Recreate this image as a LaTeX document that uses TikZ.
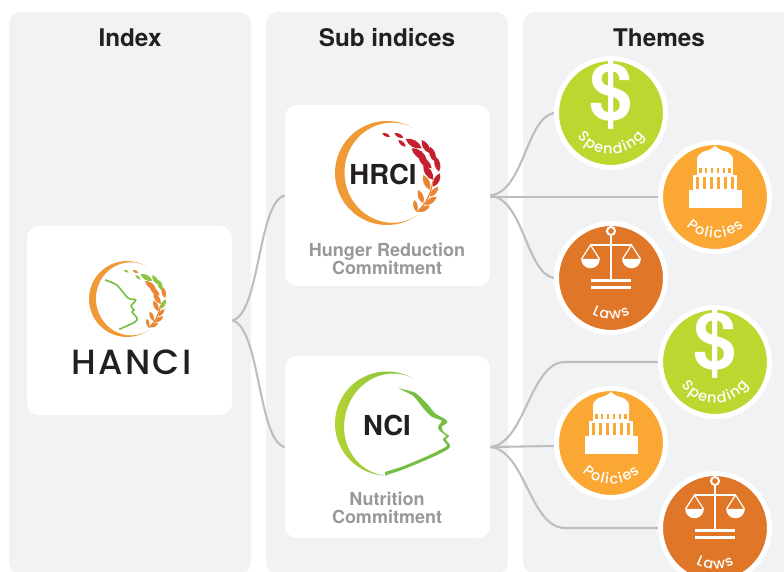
\documentclass[tikz,border=0pt]{standalone}
\usepackage{fontspec}
\setmainfont{TeX Gyre Heros}
\newfontfamily\coinfont{Poppins Medium}
\newfontfamily\wordfont[LetterSpace=7]{Poppins Medium}
\usetikzlibrary{decorations.text}
\pgfdeclarelayer{panellayer}
\pgfdeclarelayer{edgelayer}
\pgfdeclarelayer{nodelayer}
\pgfsetlayers{panellayer,edgelayer,nodelayer,main}
\definecolor{panelgray}{HTML}{F1F2F4}
\definecolor{linkgray}{HTML}{BCBEC0}
\definecolor{labelgray}{HTML}{96989B}
\definecolor{inkblack}{HTML}{231F20}
\definecolor{coinlime}{HTML}{BDD730}
\definecolor{coinamber}{HTML}{FBA733}
\definecolor{coinrust}{HTML}{E07628}
\definecolor{ringorange}{HTML}{F09A37}
\definecolor{wheatorange}{HTML}{E88633}
\definecolor{wheatred}{HTML}{C4202F}
\definecolor{leafgreen}{HTML}{8CC63F}
\definecolor{ringlime}{HTML}{B5D334}
\definecolor{facegreen}{HTML}{76BF43}
\tikzstyle{panel}=[rectangle, fill=panelgray, rounded corners=12, inner sep=0, minimum width=242]
\tikzstyle{card}=[rectangle, fill=white, rounded corners=12, inner sep=0, minimum width=205]
\tikzstyle{coin}=[circle, draw=white, line width=5, inner sep=0, minimum size=109]
\tikzstyle{link}=[-, draw=linkgray, line width=2.1]
\tikzstyle{heading}=[font=\fontsize{24.3}{26}\selectfont\bfseries, text=inkblack]
\tikzstyle{sublabel}=[font=\fontsize{18}{18}\selectfont\bfseries, text=labelgray, align=center]
\tikzstyle{logotext}=[font=\fontsize{27.5}{30}\selectfont\bfseries, text=inkblack]
\tikzstyle{dollar}=[font=\fontsize{78}{78}\selectfont\bfseries, text=white, inner sep=0]
% crescent of the logos, drawn for a ring of radius 52
\newcommand{\logoring}[3]{
    \path [#1] plot [domain=60:#2, samples=70] ({52*cos(\x)}, {52*sin(\x)})
        -- plot [domain=#2:60, samples=70] ({(52-9.5*pow(sin((\x-60)*#3),1.6))*cos(\x)}, {(52-9.5*pow(sin((\x-60)*#3),1.6))*sin(\x)}) -- cycle;
}
\newcommand{\logowheat}[3]{
    \colorlet{wheatw}{#1}
    \colorlet{wheatx}{#2}
    \colorlet{wheaty}{#3}
    \foreach \ax/\ay/\bx/\by/\lc in {
        -4.7/39.7/3/36.3/w, 7.3/39.7/16.3/35.3/x, 11.3/33/18.7/26.3/w,
        34.7/24.7/18.7/34/w, 43/19.7/34.7/33/w,
        39.7/13/24.7/24.7/x, 48/11.3/43/26.3/w,
        44.7/4.7/31.3/16.3/x, 52/1.3/48.7/16.3/x,
        46.3/-7/36.3/8/x, 46.3/-13.7/53/-0.3/w,
        43/-17/36.3/-2/y, 43/-23.7/51.3/-13.7/y,
        36.3/-30.3/31.3/-17/y, 38/-32/49.7/-23.7/y,
        29.7/-38.7/27.3/-27/y, 31.3/-38.7/43/-32.7/y} {
        \fill [wheat\lc] (\ax,\ay) to [bend left=40] (\bx,\by) to [bend left=40] (\ax,\ay);
    }
    \draw [wheaty, line width=1.2] (30,-39) .. controls (40,-30) and (44,-20) .. (46,-8);
}
\newcommand{\lgap}{\kern1.3pt}
\newcommand{\coinlabel}[2]{
    \path [decorate, decoration={text along path, text color=white, text align=center,
        text={|\coinfont\fontsize{14.5}{14.5}\selectfont|#2}}]
        (#1.center) ++(190:41) arc [start angle=190, end angle=350, radius=41];
}
\newcommand{\capitolicon}[2]{
    \begin{scope}[shift={(#1.center)}]
        \fill [white] (-26.3,-11) rectangle (26.7,6.8);
        \fill [white] (-22,6.8) rectangle (22,22);
        \fill [white] (-18,22) rectangle (18,30.5);
        \fill [white] (-18,30) -- (-18,37) .. controls (-18,44) and (-10,46) .. (-6,47)
            .. controls (-3,48) and (-2,50) .. (0,51) .. controls (2,50) and (3,48) .. (6,47)
            .. controls (10,46) and (18,44) .. (18,37) -- (18,30) -- cycle;
        \foreach \sx in {-17.5,-10.5,-3.5,3.5,10.5,17.5} {
            \fill [#2] (\sx-1.2,7.5) rectangle (\sx+1.2,19.5);
        }
        \foreach \sx in {-14.5,-8.7,-2.9,2.9,8.7,14.5} {
            \fill [#2] (\sx-1.1,24) rectangle (\sx+1.1,29);
        }
    \end{scope}
}
\newcommand{\scalesicon}[1]{
    \begin{scope}[shift={(#1.center)}]
        \draw [white, line width=2] (0,47) circle (4);
        \fill [white] (-1.3,-2) rectangle (1.3,43);
        \draw [white, line width=1.6] (-21,33) -- (21,33);
        \foreach \sx in {-20.5,20.5} {
            \fill [white] (\sx-9.3,19) arc [start angle=180, end angle=360, radius=9.3] -- cycle;
            \draw [white, line width=1.2] (\sx-9,19) -- (\sx,33) -- (\sx+9,19);
        }
        \fill [white] (-20,-4) rectangle (20,-1);
        \fill [white] (-20,-11) rectangle (20,-8);
    \end{scope}
}
\begin{document}
\begin{tikzpicture}[x=1pt, y=1pt]
    \useasboundingbox (0,0) rectangle (784,572);
    \begin{pgfonlayer}{panellayer}
        \node [style=panel, minimum height=562] (indexpanel) at (130, 279) {};
        \node [style=panel, minimum height=562] (subpanel) at (387, 279) {};
        \node [style=panel, minimum height=562, minimum width=300] (themepanel) at (673, 279) {};
    \end{pgfonlayer}
    \begin{pgfonlayer}{nodelayer}
        \node [style=heading] (indextitle) at (130, 534) {Index};
        \node [style=heading] (subtitle) at (387, 534) {Sub indices};
        \node [style=heading] (themetitle) at (659, 534) {Themes};

        \node [style=card, minimum height=189] (hanci) at (129.5, 251.5) {};
        \node [style=card, minimum height=181] (hrci) at (387.5, 376.5) {};
        \node [style=card, minimum height=182] (nci) at (387.5, 125) {};

        \node [style=coin, fill=coinlime] (spendA) at (611, 459) {};
        \node [style=coin, fill=coinamber] (policyA) at (715, 375) {};
        \node [style=coin, fill=coinrust] (lawA) at (611, 294) {};
        \node [style=coin, fill=coinlime] (spendB) at (715, 210) {};
        \node [style=coin, fill=coinamber] (policyB) at (611, 129) {};
        \node [style=coin, fill=coinrust] (lawB) at (715, 44) {};

        % logos
        \begin{scope}[shift={(127,273)}, scale=0.73]
            \logoring{fill=ringorange}{306}{0.7317}
            \logowheat{leafgreen}{wheatorange}{wheatorange}
        \end{scope}
        \draw [facegreen, line width=1.6] plot [smooth, tension=0.5] coordinates {(105,292) (116.7,287) (128,274) (135.7,272) (131,266) (134,262) (132,260) (137,254) (135,250) (119.3,242.7)};
        \node [font=\wordfont\fontsize{35}{35}\selectfont, text=inkblack] (hanciword) at (131.5, 209.5) {HANCI};

        \begin{scope}[shift={(387,399)}]
            \logoring{fill=ringorange}{306}{0.7317}
            \logowheat{wheatred}{wheatred}{wheatorange}
        \end{scope}
        \node [style=logotext] (hrciword) at (383, 398) {HRCI};
        \node [style=sublabel] (hrcilabel) at (387, 313) {Hunger Reduction\\Commitment};

        \begin{scope}[shift={(387,148.5)}]
            \logoring{left color=ringlime, right color=facegreen}{272}{0.849}
        \end{scope}
        \fill [facegreen] plot [smooth, tension=0.4] coordinates {(398.3,183.7) (415,179.3) (426.7,168.7) (435,158.7) (445,153) (447.3,149.3) (441.7,145.3) (443.3,140.3) (449,136) (445.7,132.7) (450,127) (448.3,123) (435,116) (418.3,108.7) (401.7,102) (385,96.5)}
            -- plot [smooth, tension=0.4] coordinates {(385,100) (401.7,105.3) (416.7,111.3) (433.3,118.7) (445,124.7) (447,127) (442.7,132.7) (446,136) (439,142) (438.3,146) (441.7,151.3) (431.7,155.3) (423.3,163.7) (413.3,176) (398.3,183.7)} -- cycle;
        \node [style=logotext] (nciword) at (387, 147) {NCI};
        \node [style=sublabel] (ncilabel) at (387, 64) {Nutrition\\Commitment};

        % icons
        \node [style=dollar] (dollarA) at ([yshift=18]spendA.center) {\$};
        \node [style=dollar] (dollarB) at ([yshift=18]spendB.center) {\$};
        \capitolicon{policyA}{coinamber}
        \capitolicon{policyB}{coinamber}
        \scalesicon{lawA}
        \scalesicon{lawB}
        \coinlabel{spendA}{S{\lgap}p{\lgap}e{\lgap}n{\lgap}d{\lgap}i{\lgap}n{\lgap}g}
        \coinlabel{policyA}{P{\lgap}o{\lgap}l{\lgap}i{\lgap}c{\lgap}i{\lgap}e{\lgap}s}
        \coinlabel{lawA}{L{\lgap}a{\lgap}w{\lgap}s}
        \coinlabel{spendB}{S{\lgap}p{\lgap}e{\lgap}n{\lgap}d{\lgap}i{\lgap}n{\lgap}g}
        \coinlabel{policyB}{P{\lgap}o{\lgap}l{\lgap}i{\lgap}c{\lgap}i{\lgap}e{\lgap}s}
        \coinlabel{lawB}{L{\lgap}a{\lgap}w{\lgap}s}

        \coordinate (bendA) at (565, 210);
        \coordinate (bendB) at (565, 44);
    \end{pgfonlayer}
    \begin{pgfonlayer}{edgelayer}
        \draw [style=link] (hanci.east) .. controls +(28,6) and +(-27,-6) .. (hrci.west);
        \draw [style=link] (hanci.east) .. controls +(28,-6) and +(-27,6) .. (nci.west);

        \draw [style=link] (hrci.east) .. controls +(34,4) and +(-28,-5) .. (spendA.west);
        \draw [style=link] ([yshift=-1.5]hrci.east) -- (policyA.west);
        \draw [style=link] (hrci.east) .. controls +(34,-4) and +(-28,5) .. (lawA.west);

        \draw [style=link] (nci.east) .. controls +(35,3) and +(-35,0) .. (bendA) -- (spendB.west);
        \draw [style=link] (nci.east) -- ([yshift=-3]policyB.west);
        \draw [style=link] (nci.east) .. controls +(35,-3) and +(-35,0) .. (bendB) -- (lawB.west);
    \end{pgfonlayer}
\end{tikzpicture}
\end{document}
